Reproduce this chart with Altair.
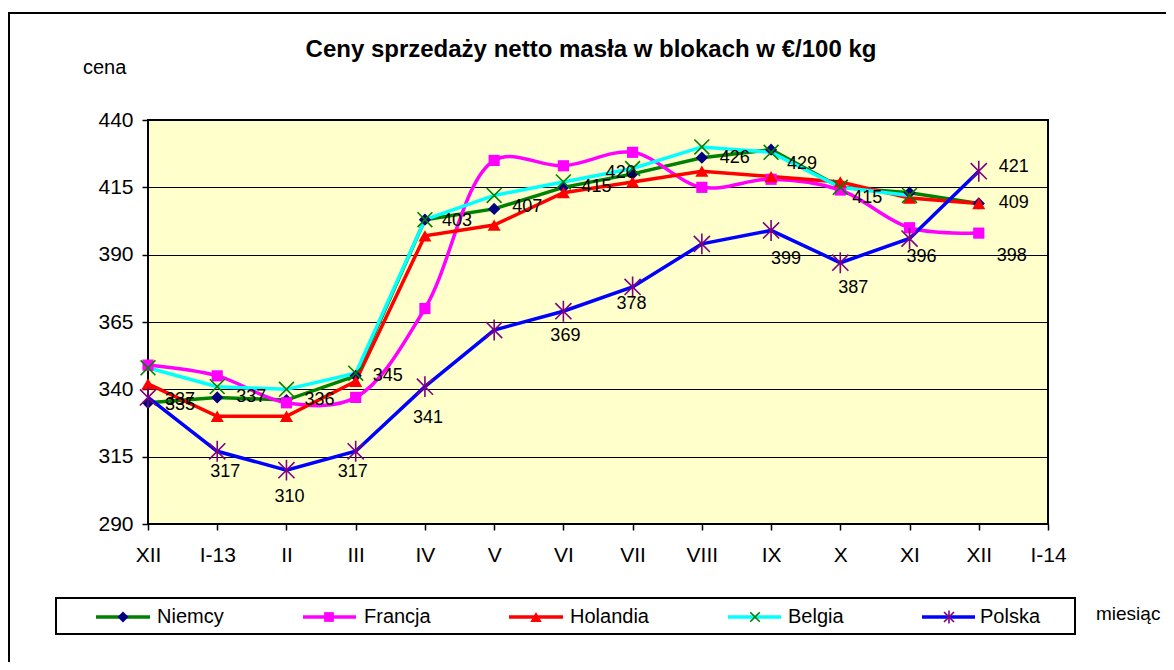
import json
import altair as alt
import pandas as pd

# ---------------- data ----------------
months = ["XII", "I-13", "II", "III", "IV", "V", "VI", "VII", "VIII", "IX", "X", "XI", "XII", "I-14"]
series_names = ["Niemcy", "Francja", "Holandia", "Belgia", "Polska"]
niemcy = [335, 337, 336, 345, 403, 407, 415, 420, 426, 429, 415, 413, 409]
francja = [349, 345, 335, 337, 370, 425, 423, 428, 415, 418, 414, 400, 398]
holandia = [342, 330, 330, 343, 397, 401, 413, 417, 421, 419, 417, 411, 409]
belgia = [348, 341, 340, 346, 403, 412, 417, 422, 430, 428, 415, 412, None]
polska = [337, 317, 310, 317, 341, 362, 369, 378, 394, 399, 387, 396, 421]
values = {"Niemcy": niemcy, "Francja": francja, "Holandia": holandia,
          "Belgia": belgia, "Polska": polska}

# which points carry a value label
label_points = {
    "Niemcy": [0, 1, 2, 3, 4, 5, 6, 7, 8, 9, 10, 12],
    "Polska": [0, 1, 2, 3, 4, 6, 7, 9, 10, 11, 12],
    "Francja": [12],
}

title_text = "Ceny sprzedaży netto masła w blokach w €/100 kg"
y_title = "cena"
x_title = "miesiąc"

# ---------------- styles / layout ----------------
FONT = "Liberation Sans"
W, H = 900, 404
PX_PER_I = W / 13.0
PX_PER_V = H / 150.0

line_colors = {"Niemcy": "#008000", "Francja": "#FF00FF", "Holandia": "#FF0000",
               "Belgia": "#00FFFF", "Polska": "#0000FF"}
marker_colors = {"Niemcy": "#000080", "Francja": "#FF00FF", "Holandia": "#FF0000",
                 "Belgia": "#008000", "Polska": "#800080"}
X_PATH = "M-1,-1L1,1M-1,1L1,-1"
AST_PATH = "M-1,-1L1,1M-1,1L1,-1M0,-1.3L0,1.3"
marker_shapes = {"Niemcy": "diamond", "Francja": "square", "Holandia": "triangle-up",
                 "Belgia": X_PATH, "Polska": AST_PATH}
marker_filled = {"Niemcy": True, "Francja": True, "Holandia": True,
                 "Belgia": False, "Polska": False}
marker_size = {"Niemcy": 150, "Francja": 125, "Holandia": 170, "Belgia": 220, "Polska": 260}
legend_marker_size = {"Niemcy": 120, "Francja": 95, "Holandia": 130, "Belgia": 90, "Polska": 100}

# label offsets in pixels (dx, dy, align)
label_offsets = {
    ("Niemcy", 0): (17, 2, "left"), ("Niemcy", 1): (19, 0, "left"),
    ("Niemcy", 2): (18, 0, "left"), ("Niemcy", 3): (17, 0, "left"),
    ("Niemcy", 4): (17, 1, "left"), ("Niemcy", 5): (18, -2, "left"),
    ("Niemcy", 6): (18, 0, "left"), ("Niemcy", 7): (-27, -1, "left"),
    ("Niemcy", 8): (18, 0, "left"), ("Niemcy", 9): (16, 14, "left"),
    ("Niemcy", 10): (12, 11, "left"), ("Niemcy", 12): (20, 0, "left"),
    ("Polska", 0): (17, 3, "left"), ("Polska", 1): (8, 21, "center"),
    ("Polska", 2): (3, 27, "center"), ("Polska", 3): (-3, 21, "center"),
    ("Polska", 4): (3, 31, "center"), ("Polska", 6): (2, 25, "center"),
    ("Polska", 7): (-1, 17, "center"), ("Polska", 9): (15, 29, "center"),
    ("Polska", 10): (13, 25, "center"), ("Polska", 11): (12, 18, "center"),
    ("Polska", 12): (20, -4, "left"),
    ("Francja", 12): (18, 23, "left"),
}

# legend layout in plot pixel coords: (line start, line end, marker x, text x)
legend_layout = {
    "Niemcy": (-52, 2, -25, 9),
    "Francja": (155, 208, 181, 216),
    "Holandia": (361, 415, 388, 422),
    "Belgia": (580, 633, 607, 640),
    "Polska": (774, 827, 801, 832),
}
LEG_Y = 497

# ---------------- build tables ----------------
rows = []
for s in series_names:
    for i, v in enumerate(values[s]):
        if v is not None:
            rows.append({"series": s, "i": i, "v": v})
df = pd.DataFrame(rows)

lab_rows = []
for s, idxs in label_points.items():
    for i in idxs:
        v = values[s][i]
        dx, dy, al = label_offsets[(s, i)]
        lab_rows.append({"lx": i + dx / PX_PER_I, "ly": v - dy / PX_PER_V,
                         "text": str(v), "align": al})
lab_df = pd.DataFrame(lab_rows)

one = pd.DataFrame({"a": [0]})

xscale = alt.Scale(domain=[0, 13], nice=False, zero=False)
yscale = alt.Scale(domain=[290, 440], nice=False, zero=False)
label_expr = json.dumps(months) + "[datum.value]"
xaxis = alt.Axis(values=list(range(14)), labelExpr=label_expr, grid=False, domain=False,
                 tickSize=6, tickColor="black", tickWidth=1.5, labelFontSize=21,
                 labelFont=FONT, labelColor="black", labelPadding=14, labelFlush=False,
                 labelOverlap=False, title=None)
yaxis = alt.Axis(values=list(range(290, 441, 25)), grid=True, gridColor="black",
                 gridWidth=1, domain=False, tickSize=6, tickColor="black", tickWidth=1.5,
                 labelFontSize=21, labelFont=FONT, labelColor="black", labelPadding=9,
                 title=None)
X = alt.X("i:Q", scale=xscale, axis=xaxis)
Y = alt.Y("v:Q", scale=yscale, axis=yaxis)

layers = []

# outer frame
layers.append(alt.Chart(one).mark_rect(filled=False, stroke="black", strokeWidth=2).encode(
    x=alt.value(-139), x2=alt.value(1200), y=alt.value(-107), y2=alt.value(700)))

# lines
for s in series_names:
    layers.append(alt.Chart(df).transform_filter(alt.datum.series == s).mark_line(
        color=line_colors[s], strokeWidth=3.5,
        interpolate="catmull-rom" if s == "Francja" else "linear").encode(x=X, y=Y))

# markers
for s in series_names:
    if marker_filled[s]:
        mk = dict(filled=True, fill=marker_colors[s], strokeWidth=0)
    else:
        mk = dict(filled=False, stroke=marker_colors[s], strokeWidth=1.6)
    layers.append(alt.Chart(df).transform_filter(alt.datum.series == s).mark_point(
        shape=marker_shapes[s], size=marker_size[s], opacity=1, **mk).encode(x=X, y=Y))

# value labels
for al in ["left", "center"]:
    layers.append(alt.Chart(lab_df).transform_filter(alt.datum.align == al).mark_text(
        align=al, baseline="middle", fontSize=18, font=FONT, color="black").encode(
        x=alt.X("lx:Q", scale=xscale, axis=xaxis),
        y=alt.Y("ly:Q", scale=yscale, axis=yaxis),
        text="text:N"))

# legend box
layers.append(alt.Chart(one).mark_rect(filled=False, stroke="black", strokeWidth=2).encode(
    x=alt.value(-92), x2=alt.value(927), y=alt.value(478), y2=alt.value(514)))
for s in series_names:
    x1, x2, xm, xt = legend_layout[s]
    layers.append(alt.Chart(one).mark_rule(color=line_colors[s], strokeWidth=3.5).encode(
        x=alt.value(x1), x2=alt.value(x2), y=alt.value(LEG_Y)))
    if marker_filled[s]:
        mk = dict(filled=True, fill=marker_colors[s], strokeWidth=0)
    else:
        mk = dict(filled=False, stroke=marker_colors[s], strokeWidth=1.6)
    layers.append(alt.Chart(one).mark_point(
        shape=marker_shapes[s], size=legend_marker_size[s], opacity=1, **mk).encode(
        x=alt.value(xm), y=alt.value(LEG_Y)))
    layers.append(alt.Chart(one).mark_text(
        align="left", baseline="middle", fontSize=20, font=FONT, color="black").encode(
        x=alt.value(xt), y=alt.value(LEG_Y), text=alt.value(s)))

# title and axis captions
layers.append(alt.Chart(one).mark_text(
    align="center", baseline="middle", fontSize=24, fontWeight="bold", font=FONT,
    color="black").encode(x=alt.value(443), y=alt.value(-70), text=alt.value(title_text)))
layers.append(alt.Chart(one).mark_text(
    align="left", baseline="middle", fontSize=20, font=FONT, color="black").encode(
    x=alt.value(-65), y=alt.value(-52), text=alt.value(y_title)))
layers.append(alt.Chart(one).mark_text(
    align="left", baseline="middle", fontSize=19, font=FONT, color="black").encode(
    x=alt.value(948), y=alt.value(LEG_Y - 3), text=alt.value(x_title)))

chart = alt.layer(*layers).properties(
    width=W, height=H,
    padding={"left": 140, "top": 112, "right": 118, "bottom": 138},
    autosize=alt.AutoSizeParams(type="none"),
    background="white",
).configure_view(fill="#FFFFCC", stroke="black", strokeWidth=2)

chart.save("out.html", embed_options={"renderer": "svg", "actions": False})
